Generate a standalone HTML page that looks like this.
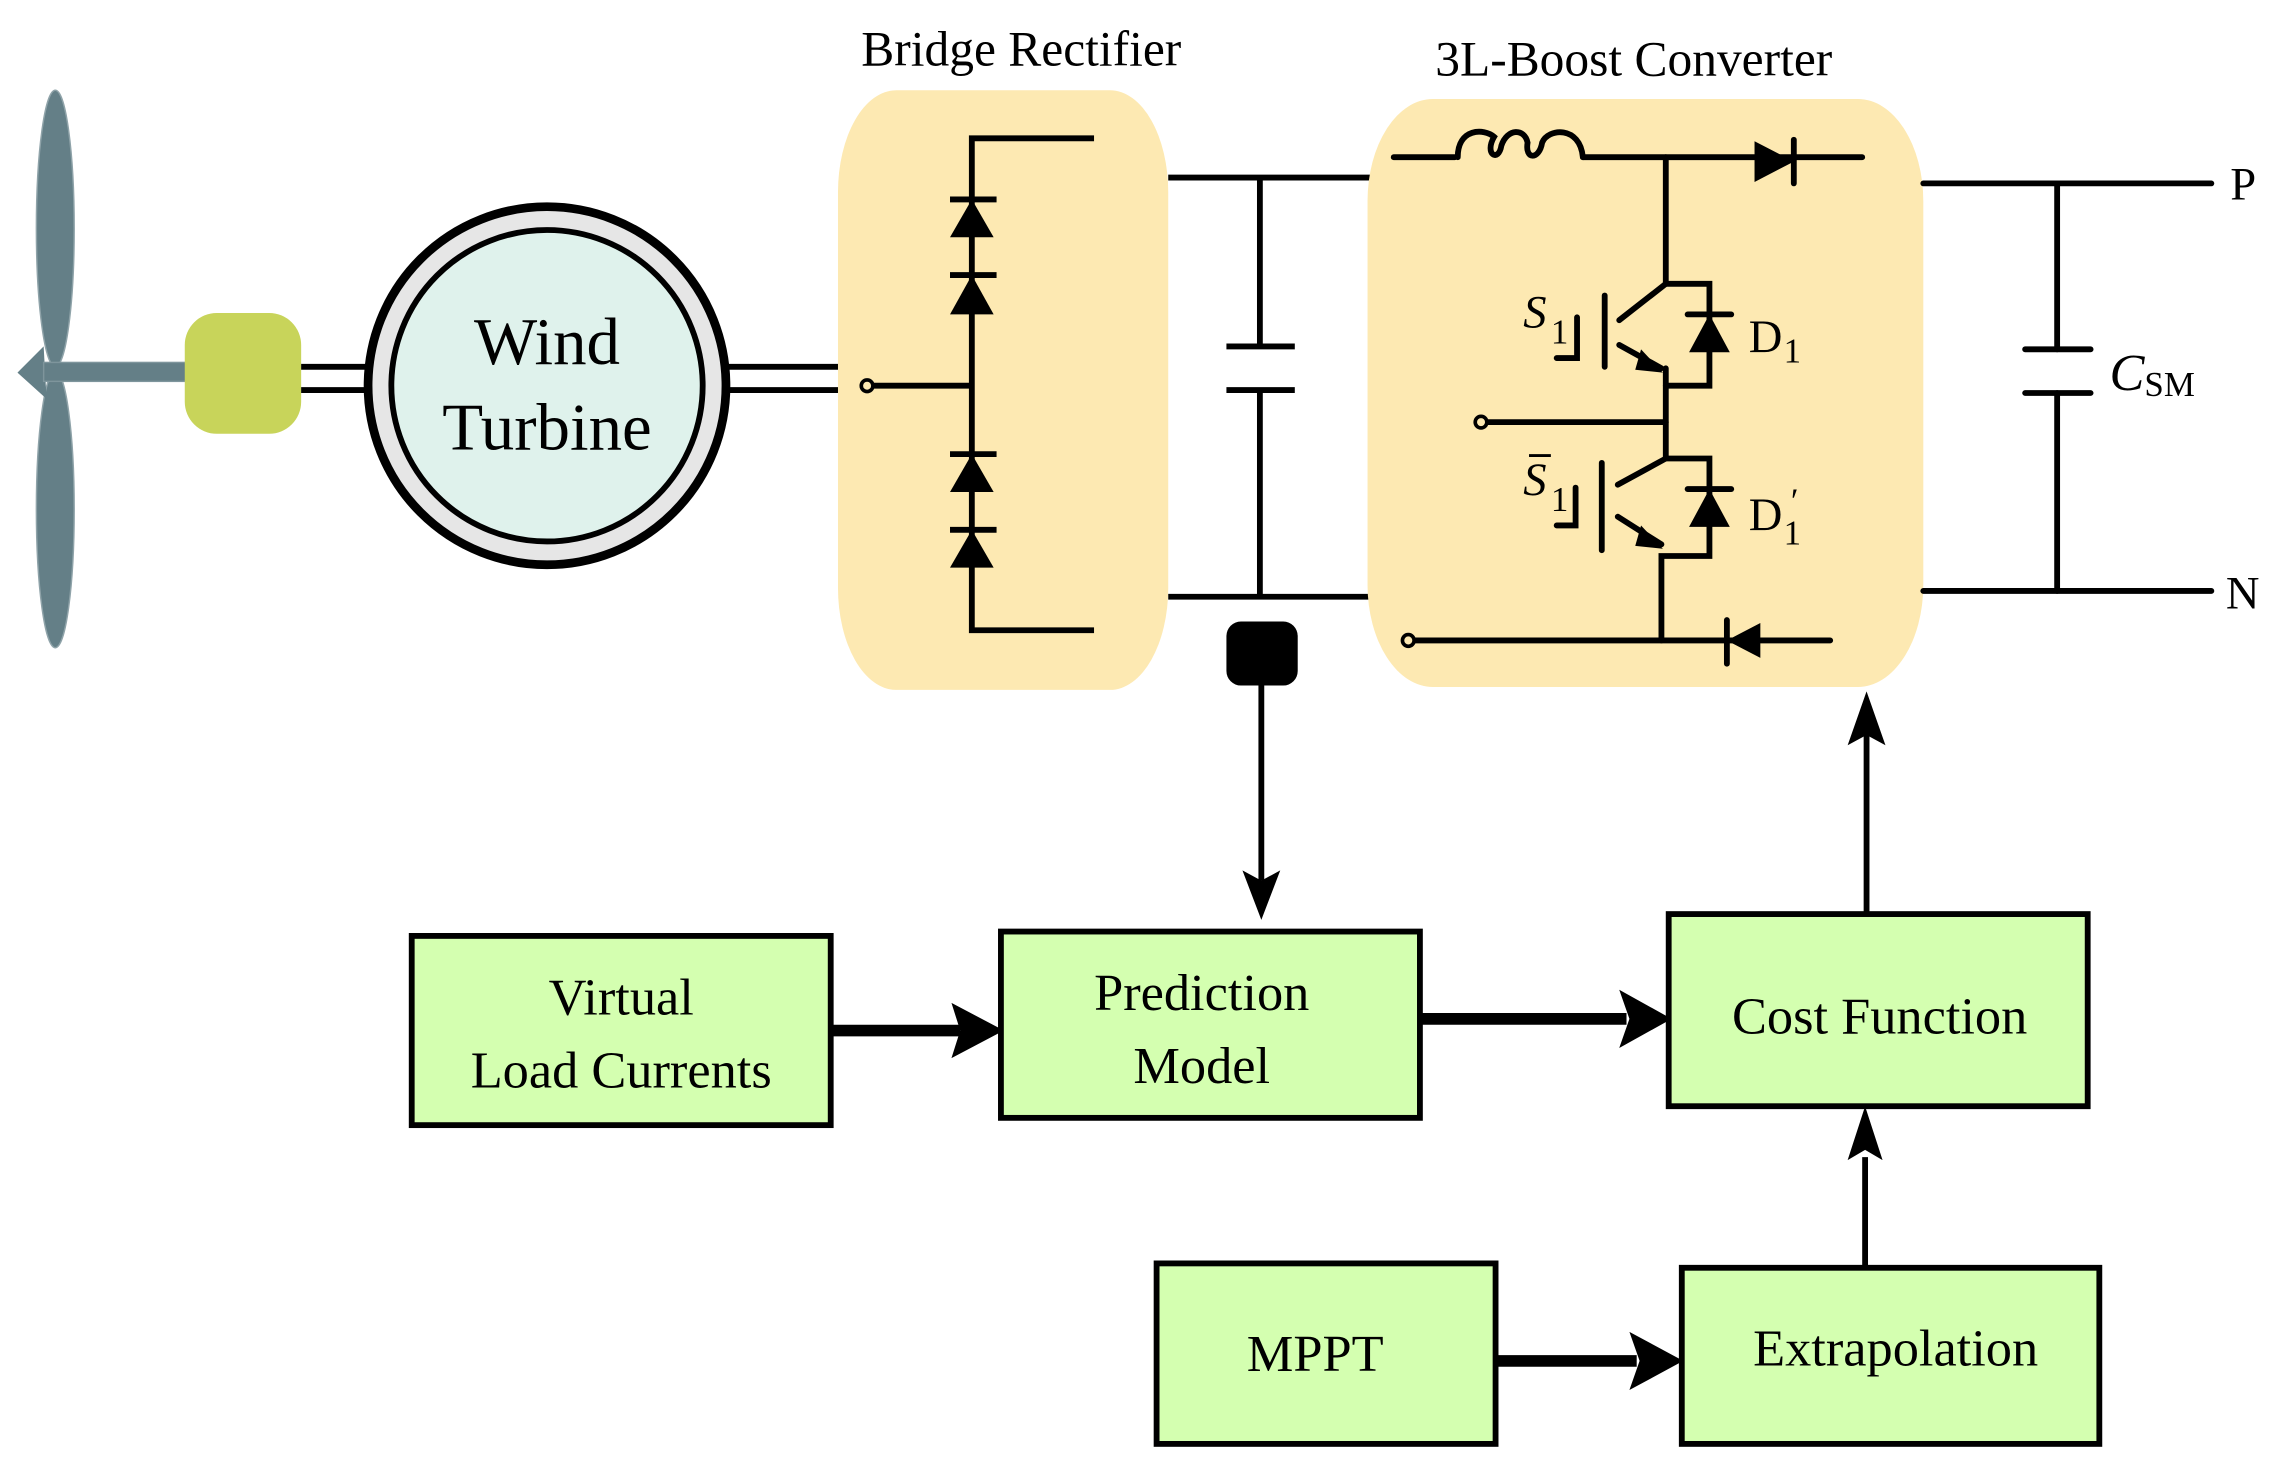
<!DOCTYPE html>
<html><head><meta charset="utf-8"><style>
html,body{margin:0;padding:0;background:#fff;}
svg{display:block;}
text{font-family:"Liberation Serif",serif;fill:#000;}
</style></head><body>
<svg width="2271" height="1457" viewBox="0 0 1561 1001" preserveAspectRatio="none" xmlns="http://www.w3.org/2000/svg">
<!-- wind blades -->
<ellipse cx="38" cy="157" rx="13" ry="95" fill="#647f87" stroke="#8fa3a9" stroke-width="1"/>
<ellipse cx="38" cy="350" rx="13" ry="95" fill="#647f87" stroke="#8fa3a9" stroke-width="1"/>
<polygon points="12,256 30,238 32,274" fill="#647f87"/>
<rect x="30" y="249" width="100" height="13" fill="#647f87" stroke="#7e959c" stroke-width="1"/>
<rect x="127" y="215" width="80" height="83" rx="22" ry="22" fill="#c8d45a"/>
<g stroke="#000" stroke-width="4" fill="none">
<line x1="207" y1="252" x2="256" y2="252"/>
<line x1="207" y1="268" x2="256" y2="268"/>
<line x1="498" y1="252" x2="578" y2="252"/>
<line x1="498" y1="268" x2="578" y2="268"/>
</g>
<circle cx="376" cy="265" r="123" fill="#e6e6e6" stroke="#000" stroke-width="6"/>
<circle cx="376" cy="265" r="107" fill="#dff2ec" stroke="#000" stroke-width="4"/>
<text x="376" y="250" font-size="46" text-anchor="middle">Wind</text>
<text x="376" y="309" font-size="46" text-anchor="middle">Turbine</text>
<rect x="576" y="62" width="227" height="412" rx="40" ry="70" fill="#fde9b2"/>
<text x="702" y="45" font-size="34" text-anchor="middle">Bridge Rectifier</text>
<g stroke="#000" stroke-width="4" fill="none">
<polyline points="752,95 668,95 668,433 752,433"/>
<line x1="600" y1="265" x2="668" y2="265"/>
<line x1="653" y1="137" x2="685" y2="137"/>
<line x1="653" y1="189" x2="685" y2="189"/>
<line x1="653" y1="312" x2="685" y2="312"/>
<line x1="653" y1="364" x2="685" y2="364"/>
</g>
<circle cx="596" cy="265" r="4" fill="#fde9b2" stroke="#000" stroke-width="2.5"/>
<g fill="#000">
<polygon points="668,137 653,163 683,163"/>
<polygon points="668,189 653,216 683,216"/>
<polygon points="668,312 653,338 683,338"/>
<polygon points="668,364 653,390 683,390"/>
</g>
<g stroke="#000" stroke-width="4" fill="none">
<line x1="803" y1="122" x2="942" y2="122"/>
<line x1="803" y1="410" x2="942" y2="410"/>
<line x1="866" y1="122" x2="866" y2="238"/>
<line x1="843" y1="238" x2="890" y2="238"/>
<line x1="843" y1="268" x2="890" y2="268"/>
<line x1="866" y1="268" x2="866" y2="410"/>
<line x1="867" y1="470" x2="867" y2="605"/>
</g>
<rect x="843" y="427" width="49" height="44" rx="10" fill="#000"/>
<polygon points="867,632 854,598 867,605 880,598" fill="#000"/>
<rect x="940" y="68" width="382" height="404" rx="45" ry="70" fill="#fde9b2"/>
<text x="1123" y="52" font-size="34" text-anchor="middle">3L-Boost Converter</text>
<g stroke="#000" stroke-width="4" fill="none" stroke-linecap="round">
<line x1="958" y1="108" x2="1000" y2="108"/>
<path d="M1002,108 C1002,88 1020,88 1027,94 C1020,106 1030,112 1032,100 C1036,88 1048,88 1050,98 C1048,110 1058,110 1060,98 C1064,88 1086,86 1088,108"/>
<line x1="1088" y1="108" x2="1280" y2="108"/>
<line x1="1233" y1="96" x2="1233" y2="126"/>
<polyline points="1145,108 1145,195 1175,195 1175,265 1145,265"/>
<line x1="1160" y1="216" x2="1190" y2="216"/>
<line x1="1145" y1="195" x2="1113" y2="220"/>
<line x1="1103" y1="203" x2="1103" y2="252"/>
<polyline points="1070,246 1084,246 1084,218"/>
<line x1="1113" y1="237" x2="1142" y2="253"/>
<line x1="1022" y1="290" x2="1145" y2="290"/>
<polyline points="1145,253 1145,315 1175,315 1175,382 1142,382 1142,440"/>
<line x1="1160" y1="336" x2="1190" y2="336"/>
<line x1="1145" y1="315" x2="1112" y2="333"/>
<line x1="1101" y1="318" x2="1101" y2="378"/>
<polyline points="1070,361 1083,361 1083,335"/>
<line x1="1112" y1="355" x2="1142" y2="374"/>
<line x1="972" y1="440" x2="1258" y2="440"/>
<line x1="1187" y1="426" x2="1187" y2="456"/>
<line x1="1322" y1="126" x2="1520" y2="126"/>
<line x1="1322" y1="406" x2="1520" y2="406"/>
<line x1="1414" y1="126" x2="1414" y2="240"/>
<line x1="1392" y1="240" x2="1437" y2="240"/>
<line x1="1392" y1="270" x2="1437" y2="270"/>
<line x1="1414" y1="270" x2="1414" y2="406"/>
</g>
<g fill="#000">
<polygon points="1233,111 1206,97 1206,125"/>
<polygon points="1175,216 1161,242 1189,242"/>
<polygon points="1175,336 1161,362 1189,362"/>
<polygon points="1143,256 1128,240 1124,254"/>
<polygon points="1143,377 1128,361 1124,375"/>
<polygon points="1187,440 1210,428 1210,452"/>
</g>
<circle cx="1018" cy="290" r="4" fill="#fde9b2" stroke="#000" stroke-width="2.5"/>
<circle cx="968" cy="440" r="4" fill="#fde9b2" stroke="#000" stroke-width="2.5"/>
<text x="1047" y="225" font-size="32" font-style="italic">S</text><text x="1066" y="236" font-size="24">1</text>
<text x="1047" y="340" font-size="32" font-style="italic">S</text><text x="1066" y="351" font-size="24">1</text>
<line x1="1051" y1="313" x2="1066" y2="313" stroke="#000" stroke-width="2"/>
<text x="1202" y="242" font-size="32">D</text><text x="1226" y="249" font-size="24">1</text>
<text x="1202" y="364" font-size="32">D</text><text x="1226" y="374" font-size="24">1</text><text x="1231" y="352" font-size="24">′</text>
<text x="1450" y="268" font-size="36" font-style="italic">C</text><text x="1474" y="272" font-size="24">SM</text>
<text x="1533" y="137" font-size="32">P</text>
<text x="1530" y="418" font-size="32">N</text>
<g stroke="#000" fill="none">
<line x1="1283" y1="628" x2="1283" y2="505" stroke-width="4"/>
<line x1="1282" y1="871" x2="1282" y2="795" stroke-width="4"/>
<line x1="571" y1="708" x2="660" y2="708" stroke-width="8"/>
<line x1="976" y1="700" x2="1118" y2="700" stroke-width="8"/>
<line x1="1028" y1="935" x2="1125" y2="935" stroke-width="8"/>
</g>
<g fill="#000">
<polygon points="1283,475 1270,512 1283,505 1296,512"/>
<polygon points="1282,760 1270,797 1282,790 1294,797"/>
<polygon points="690,708 654,689 660,708 654,727"/>
<polygon points="1149,700 1113,680 1120,700 1113,720"/>
<polygon points="1157,935 1120,915 1127,935 1120,955"/>
</g>
<g fill="#d4ffb0" stroke="#000" stroke-width="4">
<rect x="283" y="643" width="288" height="130"/>
<rect x="688" y="640" width="288" height="128"/>
<rect x="1147" y="628" width="288" height="132"/>
<rect x="795" y="868" width="233" height="124"/>
<rect x="1156" y="871" width="287" height="121"/>
</g>
<g font-size="36" text-anchor="middle">
<text x="427" y="697">Virtual</text>
<text x="427" y="747">Load Currents</text>
<text x="826" y="694">Prediction</text>
<text x="826" y="744">Model</text>
<text x="1292" y="710">Cost Function</text>
<text x="904" y="942">MPPT</text>
<text x="1303" y="938">Extrapolation</text>
</g>
</svg>
</body></html>
